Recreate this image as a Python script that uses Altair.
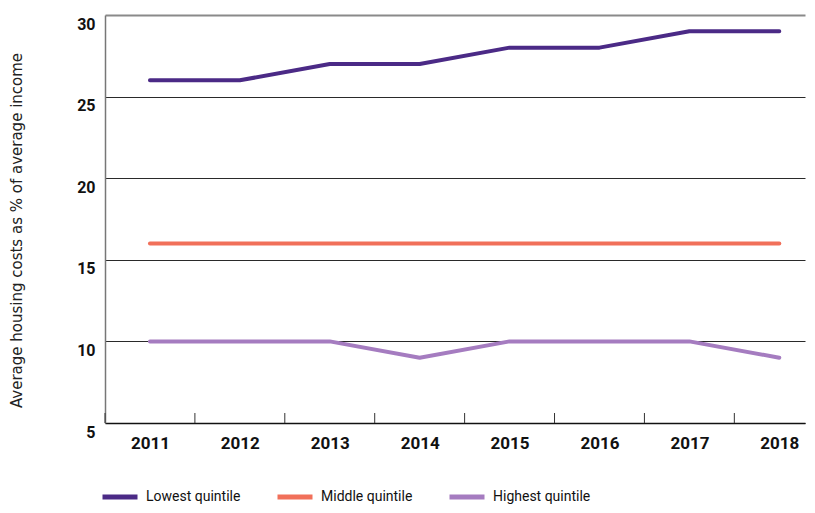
import altair as alt
import pandas as pd

years = [2011, 2012, 2013, 2014, 2015, 2016, 2017, 2018]
lowest = [26, 26, 27, 27, 28, 28, 29, 29]
middle = [16, 16, 16, 16, 16, 16, 16, 16]
highest = [10, 10, 10, 9, 10, 10, 10, 9]
series_names = ["Lowest quintile", "Middle quintile", "Highest quintile"]
series_colors = ["#4b2a86", "#f1705a", "#a57cc0"]
y_ticks = [5, 10, 15, 20, 25, 30]
x_domain = [2010.5, 2018.286]

rows = []
for name, vals in zip(series_names, [lowest, middle, highest]):
    for yr, v in zip(years, vals):
        rows.append({"year": yr, "value": v, "series": name})
df = pd.DataFrame(rows)
ticks_df = pd.DataFrame({"boundary": [y - 0.5 for y in years]})

W, H = 700, 408
x_scale = alt.Scale(domain=x_domain, nice=False, zero=False)
y_scale = alt.Scale(domain=[5, 30], nice=False, zero=False)

lines = alt.Chart(df).mark_line(strokeWidth=4, strokeCap="round", strokeJoin="round").encode(
    x=alt.X("year:Q", scale=x_scale,
            axis=alt.Axis(title=None, values=years, format="d", ticks=False, grid=False,
                          domainColor="#111111", domainWidth=1.5, labelFont="Roboto",
                          labelFontWeight="bold", labelFontSize=17, labelColor="#111111",
                          labelPadding=12, labelAngle=0, labelFlush=False, labelOverlap=False)),
    y=alt.Y("value:Q", scale=y_scale,
            axis=alt.Axis(title="Average housing costs as % of average income",
                          values=y_ticks, ticks=False, grid=True,
                          gridColor={"condition": {"test": "datum.value === 30", "value": "#8a8a8a"}, "value": "#2a2a2a"},
                          gridWidth={"condition": {"test": "datum.value === 30", "value": 2}, "value": 1},
                          domainColor="#777777", domainWidth=1.5,
                          labelFont="Roboto", labelFontWeight="bold", labelFontSize=16,
                          labelColor="#111111", labelPadding=10, labelBaseline="top", labelOffset=1,
                          labelFlush=False,
                          titleFont="DejaVu Sans", titleFontSize=15, titleFontWeight="normal",
                          titleColor="#222222", titleX=-89, titleY=215, titleAngle=270,
                          titleAlign="center", titleBaseline="middle")),
    color=alt.Color("series:N", scale=alt.Scale(domain=series_names, range=series_colors),
                    legend=alt.Legend(title=None, orient="none", legendX=-5, legendY=462,
                                      direction="horizontal", columns=3, symbolType="stroke",
                                      symbolSize=1225, symbolStrokeWidth=5, columnPadding=26,
                                      labelOffset=6, labelFont="Roboto",
                                      labelFontSize=14, labelColor="#111111")),
)

tick_rules = alt.Chart(ticks_df).mark_rule(color="#333333", strokeWidth=1).encode(
    x=alt.X("boundary:Q", scale=x_scale),
    y=alt.value(H - 10),
    y2=alt.value(H),
)

chart = alt.layer(tick_rules, lines).properties(
    width=W, height=H,
    autosize=alt.AutoSizeParams(type="none"),
    padding={"left": 97, "top": 7, "right": 2, "bottom": 82},
    background="white",
).configure_view(stroke=None)

chart.save("out.html", embed_options={"renderer": "svg", "actions": False})
